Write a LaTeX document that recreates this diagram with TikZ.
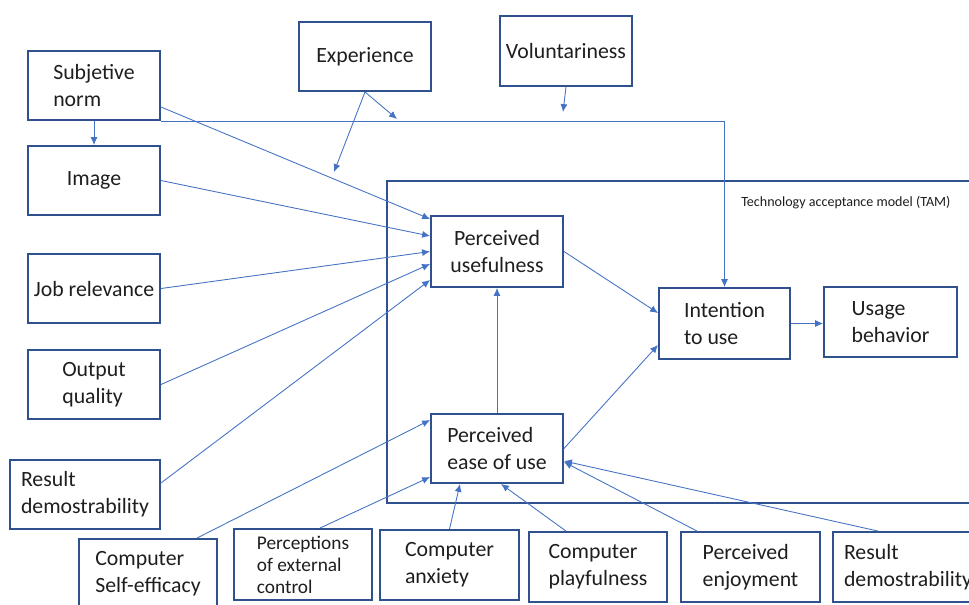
\documentclass[tikz,border=0pt]{standalone}
\usepackage{fontspec}
\setmainfont{Carlito}
\usetikzlibrary{arrows.meta}
\definecolor{boxblue}{RGB}{47,82,143}
\definecolor{lineblue}{RGB}{68,114,196}
\definecolor{inkgray}{RGB}{30,30,30}
\begin{document}
\begin{tikzpicture}[
  box/.style={draw=boxblue, line width=1.1pt, align=left, text=inkgray, font=\fontsize{12.4}{15.5}\selectfont, minimum width=2.64cm, minimum height=1.38cm, inner sep=2pt},
  link/.style={->, draw=lineblue, line width=0.5pt},
  >={Latex[length=4.5pt,width=4pt]}
]
\useasboundingbox (0,0) rectangle (19.38,-12.08);
% TAM frame
\draw[boxblue, line width=1.1pt] (7.74,-3.62) rectangle (19.8,-10.06);
\node[anchor=west, font=\fontsize{8}{10}\selectfont, inner sep=0pt, text=inkgray] (tamlabel) at (14.82,-4.06) {Technology acceptance model (TAM)};
% external variables
\node[box] (sn) at (1.88,-1.71) {Subjetive\\norm};
\node[box] (img) at (1.88,-3.61) {Image};
\node[box] (job) at (1.88,-5.77) {Job relevance};
\node[box] (out) at (1.88,-7.69) {Output\\quality};
\node[box, minimum width=3.0cm] (resl) at (1.70,-9.89) {Result\\demostrability};
\node[box, minimum width=2.76cm] (cse) at (2.96,-11.47) {Computer\\Self-efficacy};
\node[box, minimum width=2.76cm, minimum height=1.42cm, font=\fontsize{11}{12.5}\selectfont] (pec) at (6.06,-11.29) {Perceptions\\of external\\control};
\node[box, minimum width=2.78cm, minimum height=1.40cm] (anx) at (8.99,-11.30) {Computer\\anxiety};
\node[box, minimum width=2.76cm, minimum height=1.40cm] (play) at (11.96,-11.34) {Computer\\playfulness};
\node[box, minimum width=2.78cm, minimum height=1.40cm] (enj) at (15.01,-11.34) {Perceived\\enjoyment};
\node[box, minimum width=3.0cm, minimum height=1.40cm] (resr) at (18.16,-11.34) {Result\\demostrability};
\node[box] (exp) at (7.30,-1.13) {Experience};
\node[box, minimum height=1.40cm] (vol) at (11.32,-1.02) {Voluntariness};
% TAM core
\node[box, align=center, minimum height=1.42cm] (pu) at (9.94,-5.03) {Perceived\\usefulness};
\node[box] (peou) at (9.94,-8.97) {Perceived\\ease of use};
\node[box, minimum width=2.62cm, minimum height=1.42cm] (itu) at (14.49,-6.47) {Intention\\to use};
\node[box, minimum width=2.66cm, minimum height=1.40cm] (ub) at (17.81,-6.44) {Usage\\behavior};
% moderator ends
\coordinate (mod1) at (7.94,-2.38);
\coordinate (mod2) at (6.68,-3.44);
\coordinate (mod3) at (11.26,-2.24);
% connectors
\draw[link] (sn.south) -- (img.north);
\draw[link] (sn.south east) -| (itu.north);
\draw[link] (exp.south) -- (mod1);
\draw[link] (exp.south) -- (mod2);
\draw[link] (vol.south) -- (mod3);
\draw[link] ([yshift=-0.43cm]sn.east) -- ([yshift=0.65cm]pu.west);
\draw[link] (img.east) -- ([yshift=0.31cm]pu.west);
\draw[link] (job.east) -- (pu.west);
\draw[link] (out.east) -- ([yshift=-0.25cm]pu.west);
\draw[link] ([yshift=0.23cm]resl.east) -- ([yshift=-0.57cm]pu.west);
\draw[link] (pu.east) -- ([yshift=0.21cm]itu.west);
\draw[link] (peou.north) -- (pu.south);
\draw[link] (peou.east) -- ([yshift=-0.43cm]itu.west);
\draw[link] (itu.east) -- (itu.east -| ub.west);
\draw[link] ([xshift=0.98cm]cse.north) -- ([yshift=0.57cm]peou.west);
\draw[link] ([xshift=0.34cm]pec.north) -- ([yshift=-0.57cm]peou.west);
\draw[link] (anx.north) -- ([xshift=-0.74cm]peou.south);
\draw[link] ([xshift=-0.64cm]play.north) -- ([xshift=0.08cm]peou.south);
\draw[link] ([xshift=-1.07cm]enj.north) -- ([yshift=-0.27cm]peou.east);
\draw[link] ([xshift=-0.6cm]resr.north) -- ([yshift=-0.25cm]peou.east);
\end{tikzpicture}
\end{document}
